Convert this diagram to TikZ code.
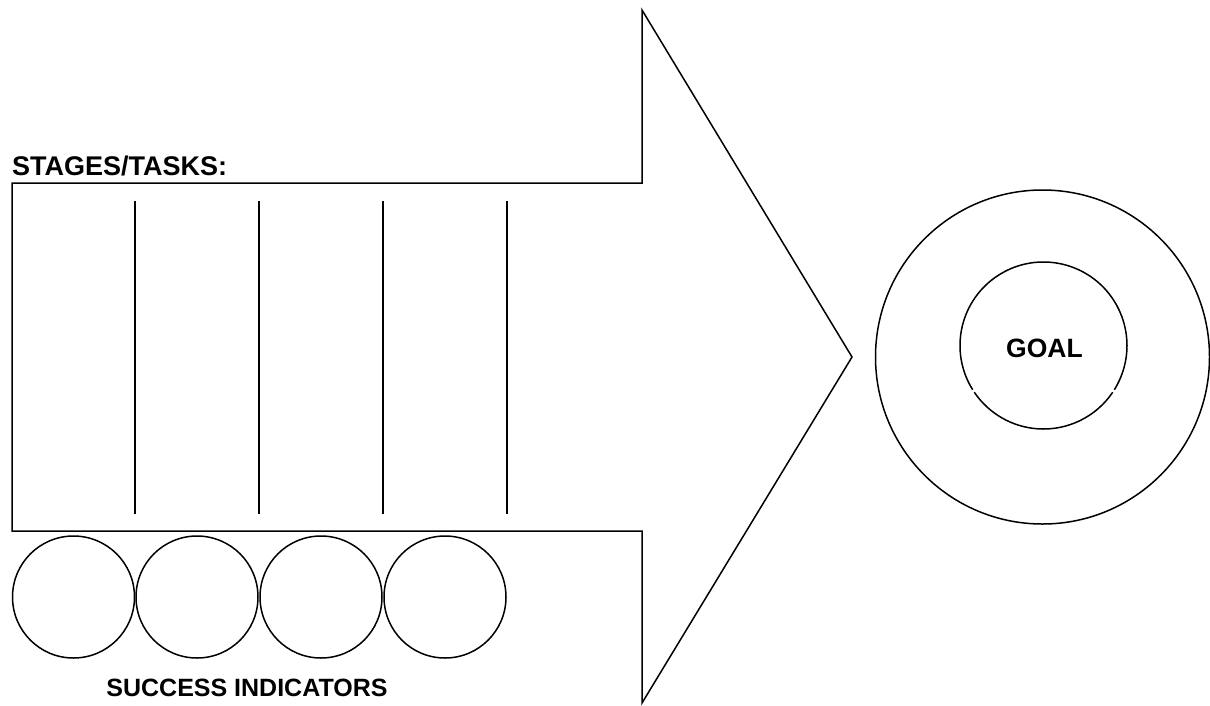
\documentclass[tikz,border=0pt]{standalone}
\usepackage{fontspec}
\setmainfont{Liberation Sans}
\begin{document}
\begin{tikzpicture}[x=1pt,y=-1pt,
  outline/.style={draw=black,line width=1.5pt,line join=miter},
  divider/.style={draw=black,line width=1.5pt},
  indicator/.style={circle,draw=black,line width=1.5pt,minimum size=122pt,inner sep=0pt},
  label/.style={font=\bfseries,inner sep=0pt}]
\useasboundingbox (0,0) rectangle (1210,705);
% arrow
\coordinate (a1) at (12,183);
\coordinate (a2) at (642,183);
\coordinate (a3) at (642,10);
\coordinate (tip) at (852,357);
\coordinate (a5) at (642,703);
\coordinate (a6) at (642,531);
\coordinate (a7) at (12,531);
\draw[outline] (a1) -- (a2) -- (a3) -- (tip) -- (a5) -- (a6) -- (a7) -- cycle;
% dividers
\foreach \x/\n in {135/1,259/2,383/3,507/4}{
  \coordinate (dt\n) at (\x,201);
  \coordinate (db\n) at (\x,514);
  \draw[divider] (dt\n) -- (db\n);
}
% indicators
\node[indicator] (c1) at (73.5,597) {};
\node[indicator] (c2) at (197,597) {};
\node[indicator] (c3) at (321,597) {};
\node[indicator] (c4) at (445,597) {};
% goal circles
\node[circle,draw=black,line width=1.5pt,minimum size=334pt,inner sep=0pt] (outer) at (1042.5,357) {};
\coordinate (gc) at (1043.5,345.5);
\draw[divider] ([shift={(148:83.5)}]gc) arc[start angle=148,end angle=392,radius=83.5];
\draw[divider] ([shift={(34:83.5)}]gc) arc[start angle=34,end angle=146,radius=83.5];
% labels
\node[label,font=\fontsize{27}{30}\selectfont\bfseries,anchor=base west] (stages) at (12,175) {STAGES/TASKS:};
\node[label,font=\fontsize{26.5}{30}\selectfont\bfseries,anchor=base] (goal) at (1044.5,357) {GOAL};
\node[label,font=\fontsize{25}{28}\selectfont\bfseries,anchor=base] (succ) at (247,696) {SUCCESS INDICATORS};
\end{tikzpicture}
\end{document}
